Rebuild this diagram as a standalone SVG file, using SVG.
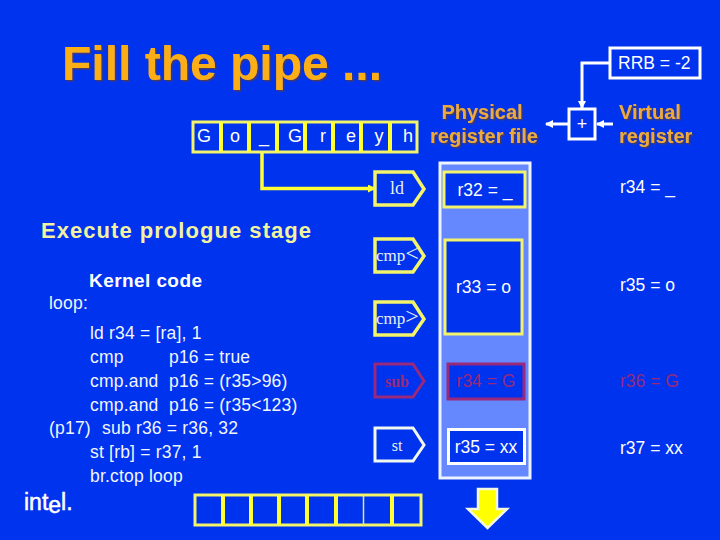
<svg xmlns="http://www.w3.org/2000/svg" width="720" height="540" viewBox="0 0 720 540">
<style>
text{font-family:"Liberation Sans",Arial,sans-serif;fill:#fff}
.hd{fill:#ecaa3c;font-weight:bold;filter:url(#sh)}
.code{font-size:17.500px;fill:#f2f6ff;letter-spacing:.2px}
.cell{font-size:18px;text-anchor:middle}
.reg{font-size:17.500px;text-anchor:middle}
.rt{font-size:17.500px}
.op{font-family:"Liberation Serif",serif;font-size:17px;fill:#e8f0f0}
.mid{text-anchor:middle}
.yb{fill:#0033ee;stroke:#f4f46a;stroke-width:3}
.yd{stroke:#ffff33;stroke-width:4}
.wl{fill:none;stroke:#fff;stroke-width:3}
</style>
<defs>
<filter id="sh" x="-10%" y="-10%" width="125%" height="130%"><feDropShadow dx="1.500" dy="1.500" stdDeviation="0.300" flood-color="#4a3a60"/></filter>
<marker id="ay" markerWidth="10" markerHeight="10" refX="7" refY="4" orient="auto" markerUnits="userSpaceOnUse"><path d="M0 0L8 4L0 8Z" fill="#ffff33"/></marker>
<marker id="aw" markerWidth="9" markerHeight="9" refX="7" refY="4" orient="auto" markerUnits="userSpaceOnUse"><path d="M0 0L8 4L0 8Z" fill="#fff"/></marker>
<path id="pent" d="M0 0H38L49 17L38 33H0Z"/>
</defs>
<rect width="720" height="540" fill="#0033ee"/>
<text x="62" y="80" font-size="48" class="hd" style="fill:#fbae17">Fill the pipe ...</text>
<text x="41" y="238" font-size="22" font-weight="bold" textLength="270" lengthAdjust="spacing" style="fill:#f2f2a0">Execute prologue stage</text>
<text x="89" y="287" font-size="19" font-weight="bold" textLength="113" lengthAdjust="spacing">Kernel code</text>
<text x="49" y="309" class="code">loop:</text>
<text x="90" y="339" class="code">ld r34 = [ra], 1</text>
<text x="90" y="363" class="code">cmp</text><text x="169" y="363" class="code">p16 = true</text>
<text x="90" y="387" class="code">cmp.and</text><text x="169" y="387" class="code">p16 = (r35&gt;96)</text>
<text x="90" y="411" class="code">cmp.and</text><text x="169" y="411" class="code">p16 = (r35&lt;123)</text>
<text x="49" y="434" class="code">(p17)</text><text x="102" y="434" class="code">sub r36 = r36, 32</text>
<text x="90" y="458" class="code">st [rb] = r37, 1</text>
<text x="90" y="482" class="code">br.ctop loop</text>
<g id="logo"><text x="24" y="510" font-size="23" stroke="#fff" stroke-width=".5">int<tspan dy="3">e</tspan><tspan dy="-3">l.</tspan></text></g>
<g id="connectors" fill="none">
<path d="M262 152V188.500H375" stroke="#ffff33" stroke-width="3.500" marker-end="url(#ay)"/>
<path d="M609 63H582V108" stroke="#fff" stroke-width="3" marker-end="url(#aw)"/>
<path d="M568 124H546" stroke="#fff" stroke-width="3" marker-end="url(#aw)"/>
<path d="M613 124H597" stroke="#fff" stroke-width="3" marker-end="url(#aw)"/>
</g>
<g id="fetch-buffer">
<rect class="yb" x="193" y="122" width="224" height="30"/>
<path class="yd" d="M221 122V152M249 122V152M277 122V152M305 122V152M333 122V152M361 122V152M390 122V152"/>
<text class="cell" x="204" y="142">G</text><text class="cell" x="235" y="142">o</text><text class="cell" x="264" y="142">_</text><text class="cell" x="295" y="142">G</text><text class="cell" x="323" y="142">r</text><text class="cell" x="351" y="142">e</text><text class="cell" x="379" y="142">y</text><text class="cell" x="408" y="142">h</text>
</g>
<g id="reorder-buffer">
<rect class="yb" x="195" y="495" width="226" height="30"/>
<path class="yd" d="M223 495V525M251 495V525M279 495V525M307 495V525M336 495V525M392 495V525"/>
<path d="M363.500 495V525" stroke="#dfe890" stroke-width="1.500"/>
</g>
<g id="panel"><rect x="440" y="163" width="90" height="315" fill="#6688ff" stroke="#eef4ff" stroke-width="3"/></g>
<g id="op-ld" transform="translate(375 172)"><use href="#pent" fill="#0033ee" stroke="#f4f46a" stroke-width="3.500"/><text class="op mid" x="22" y="22" style="font-size:18px">ld</text></g>
<g id="op-cmplt" transform="translate(375 239)"><use href="#pent" fill="#0033ee" stroke="#f4f46a" stroke-width="3.500"/><text class="op" x="1" y="22">cmp<tspan font-size="24">&lt;</tspan></text></g>
<g id="op-cmpgt" transform="translate(375 302)"><use href="#pent" fill="#0033ee" stroke="#f4f46a" stroke-width="3.500"/><text class="op" x="1" y="22">cmp<tspan font-size="24">&gt;</tspan></text></g>
<g id="op-sub" transform="translate(375 364)"><use href="#pent" fill="#0033ee" stroke="#99297a" stroke-width="3"/><text class="op mid" x="22" y="23" style="fill:#99297a;font-weight:bold;font-size:16px">sub</text></g>
<g id="op-st" transform="translate(375 428)"><use href="#pent" fill="#0033ee" stroke="#f0f8f0" stroke-width="3"/><text class="op mid" x="22" y="23" style="font-size:16px">st</text></g>
<g id="r32"><rect class="yb" x="444" y="172" width="81" height="35" stroke-width="4"/><text class="reg" x="485" y="196">r32 = _</text></g>
<g id="r33"><rect class="yb" x="445" y="240" width="77" height="94"/><text class="reg" x="483.500" y="293">r33 = o</text></g>
<g id="r34"><rect x="448" y="364" width="76" height="35" fill="#0033ee" stroke="#99297a" stroke-width="3"/><text class="reg" x="486" y="387" style="fill:#99297a">r34 = G</text></g>
<g id="r35"><rect x="448.500" y="429.500" width="76" height="34" fill="#0033ee" stroke="#fff" stroke-width="3"/><text class="reg" x="486" y="453">r35 = xx</text></g>
<text x="482" y="119" font-size="20" class="hd" text-anchor="middle">Physical</text>
<text x="484" y="143" font-size="20" class="hd" text-anchor="middle">register file</text>
<text x="619" y="119" font-size="20" class="hd">Virtual</text>
<text x="619" y="143" font-size="20" class="hd">register</text>
<g id="rrb"><rect class="wl" x="610" y="48" width="90" height="30"/><text x="618" y="69" font-size="17.500">RRB = -2</text></g>
<g id="adder"><rect class="wl" x="569" y="109" width="26" height="30"/><text x="582" y="130" font-size="18" text-anchor="middle">+</text></g>
<text class="rt" x="620" y="193">r34 = _</text>
<text class="rt" x="620" y="291">r35 = o</text>
<text class="rt" x="620" y="387" style="fill:#99297a">r36 = G</text>
<text class="rt" x="620" y="454">r37 = xx</text>
<g id="down-arrow"><path d="M478 489H497V509H507L487.500 528L468 509H478Z" fill="#ffff00" stroke="#f4f8e0" stroke-width="2.500"/></g>
</svg>
